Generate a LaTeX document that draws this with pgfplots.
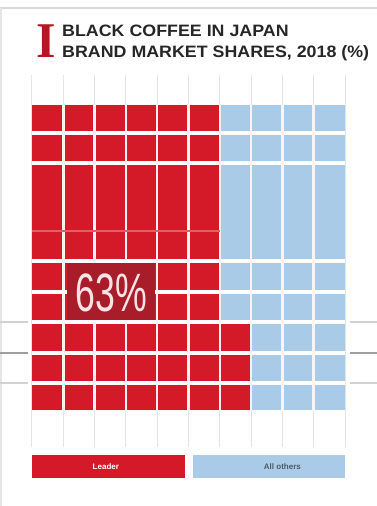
\documentclass[border=0pt]{standalone}
\usepackage{pgfplots}
\pgfplotsset{compat=1.18}
\usepackage{fontspec}
\setmainfont{Liberation Sans}
\newfontfamily\titlefont[FakeStretch=1.08]{Liberation Sans}
\newfontfamily\bigfont[FakeStretch=0.66]{Liberation Sans}
\newfontfamily\capfont{Liberation Serif}
\definecolor{cRed}{HTML}{D41A29}
\definecolor{cDark}{HTML}{A91D2B}
\definecolor{cBlue}{HTML}{A9CBE8}
\definecolor{cGrid}{HTML}{E4E4E4}
\definecolor{cTitle}{HTML}{262626}
\begin{document}
\begin{tikzpicture}
\begin{axis}[scale only axis, width=377pt, height=506pt,
  xmin=-10.22, xmax=110.22, ymin=0, ymax=506, y dir=reverse,
  hide axis, clip=false]
% frame remnants
\draw[gray!30, line width=2pt] (axis cs:-10.22,8) -- (axis cs:110.22,8);
\draw[gray!20, line width=2pt] (axis cs:-10.0,8) -- (axis cs:-10.0,506);
% light column grid
\pgfplotsinvokeforeach{0,10,...,100}{
  \draw[cGrid, line width=1pt] (axis cs:#1,75) -- (axis cs:#1,447);
}
% rows: red share / blue rest
\addplot[fill=cRed, draw=none] coordinates {(0,105) (60,105) (60,131) (0,131)} -- cycle;
\addplot[fill=cBlue, draw=none] coordinates {(60,105) (100,105) (100,131) (60,131)} -- cycle;
\addplot[fill=cRed, draw=none] coordinates {(0,135) (60,135) (60,161) (0,161)} -- cycle;
\addplot[fill=cBlue, draw=none] coordinates {(60,135) (100,135) (100,161) (60,161)} -- cycle;
\addplot[fill=cRed, draw=none] coordinates {(0,165) (60,165) (60,259) (0,259)} -- cycle;
\addplot[fill=cBlue, draw=none] coordinates {(60,165) (100,165) (100,259) (60,259)} -- cycle;
\addplot[fill=cRed, draw=none] coordinates {(0,263) (60,263) (60,290) (0,290)} -- cycle;
\addplot[fill=cBlue, draw=none] coordinates {(60,263) (100,263) (100,290) (60,290)} -- cycle;
\addplot[fill=cRed, draw=none] coordinates {(0,294) (60,294) (60,320) (0,320)} -- cycle;
\addplot[fill=cBlue, draw=none] coordinates {(60,294) (100,294) (100,320) (60,320)} -- cycle;
\addplot[fill=cRed, draw=none] coordinates {(0,324) (70,324) (70,351) (0,351)} -- cycle;
\addplot[fill=cBlue, draw=none] coordinates {(70,324) (100,324) (100,351) (70,351)} -- cycle;
\addplot[fill=cRed, draw=none] coordinates {(0,355) (70,355) (70,381) (0,381)} -- cycle;
\addplot[fill=cBlue, draw=none] coordinates {(70,355) (100,355) (100,381) (70,381)} -- cycle;
\addplot[fill=cRed, draw=none] coordinates {(0,385) (70,385) (70,410) (0,410)} -- cycle;
\addplot[fill=cBlue, draw=none] coordinates {(70,385) (100,385) (100,410) (70,410)} -- cycle;
% white cell separators
\pgfplotsinvokeforeach{10,20,...,90}{
  \draw[white!80!pink, line width=2.6pt] (axis cs:#1,104) -- (axis cs:#1,411);
}
\draw[cRed!70!white, line width=1.5pt] (axis cs:0,231) -- (axis cs:60,231);
% 63% highlight
\fill[cDark] (axis cs:11.2,263) rectangle (axis cs:39.3,320);
\node[text=white!88!cRed, font=\bigfont\fontsize{54}{54}\selectfont, anchor=base, inner sep=0pt]
  at (axis cs:25.3,311) {63\%};
% side marks
\draw[gray!35, line width=2pt] (axis cs:-10.22,322) -- (axis cs:-1.3,322);
\draw[gray!75, line width=2pt] (axis cs:-10.22,353) -- (axis cs:-1.3,353);
\draw[gray!35, line width=2pt] (axis cs:-10.22,383) -- (axis cs:-1.3,383);
\draw[gray!35, line width=2pt] (axis cs:101.6,322) -- (axis cs:110.22,322);
\draw[gray!75, line width=2pt] (axis cs:101.6,353) -- (axis cs:110.22,353);
\draw[gray!35, line width=2pt] (axis cs:101.6,383) -- (axis cs:110.22,383);
% title
\node[text=cRed!85!black, font=\capfont\bfseries\fontsize{50}{50}\selectfont, anchor=base west, inner sep=0pt]
  at (axis cs:1.3,57) {I};
\node[text=cTitle, font=\titlefont\bfseries\fontsize{16.5}{20}\selectfont, anchor=base west, inner sep=0pt]
  at (axis cs:9.6,36) {BLACK COFFEE IN JAPAN};
\node[text=cTitle, font=\titlefont\bfseries\fontsize{16.5}{20}\selectfont, anchor=base west, inner sep=0pt]
  at (axis cs:9.6,57) {BRAND MARKET SHARES, 2018 (\%)};
% legend
\fill[cRed] (axis cs:0,455) rectangle (axis cs:48.9,478);
\fill[cBlue] (axis cs:51.4,455) rectangle (axis cs:100,478);
\node[text=white, font=\bfseries\fontsize{8}{9}\selectfont, anchor=center] at (axis cs:23.6,467) {Leader};
\node[text=black!55!cBlue, font=\bfseries\fontsize{8}{9}\selectfont, anchor=center] at (axis cs:80,467) {All others};
\end{axis}
\pgfresetboundingbox
\useasboundingbox (current axis.south west) rectangle (current axis.north east);
\end{tikzpicture}
\end{document}
